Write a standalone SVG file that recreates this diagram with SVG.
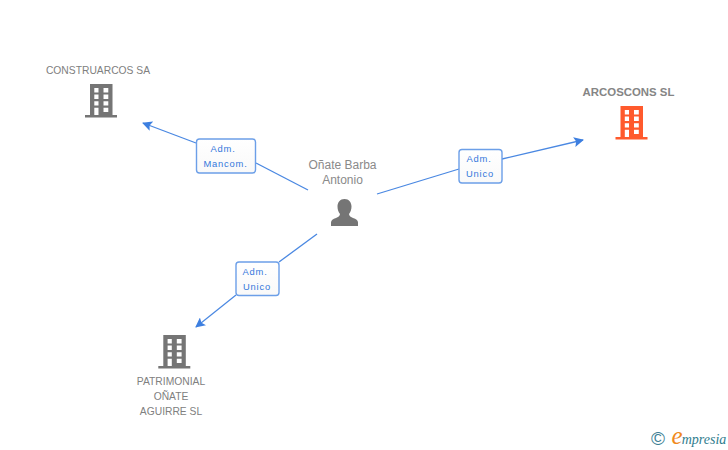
<svg xmlns="http://www.w3.org/2000/svg" width="728" height="450" viewBox="0 0 728 450">
<style>
text{font-family:"Liberation Sans",Arial,sans-serif;text-anchor:middle}
.n{font-size:10.3px;fill:#808080}
.p{font-size:12px;fill:#8a8a8a}
.b{font-size:11.4px;font-weight:bold;fill:#858585}
.l{font-size:9.4px;fill:#3478dc;letter-spacing:.8px}
.c{fill:none;stroke:#4a88e2;stroke-width:1.3}
.box{fill:url(#g);stroke:#6c9fe8;stroke-width:1.4}
</style>
<defs>
<linearGradient id="g" x1="0" y1="0" x2="0" y2="1"><stop offset="0" stop-color="#fff"/><stop offset="1" stop-color="#f9f9f9"/></linearGradient>
<marker id="a" markerWidth="11" markerHeight="10" refX="9" refY="5" orient="auto" markerUnits="userSpaceOnUse"><path d="M0 0L10 5L0 10L2 5Z" fill="#3d7fe0"/></marker>
<symbol id="bld" width="32" height="34" viewBox="0 0 32 34" overflow="visible">
<path fill-rule="evenodd" d="M5 0H27.500V31H32V33.500H0V31H5ZM9.300 4V8.500H13.500V4ZM18.500 4V8.500H23.300V4ZM9.300 10.500V15H13.500V10.500ZM18.500 10.500V15H23.300V10.500ZM9.300 17.200V21.500H13.500V17.200ZM18.500 17.200V21.500H23.300V17.200ZM9.300 23.800V31H13.500V23.800ZM18.500 23.800V28H23.300V23.800Z"/>
</symbol>
</defs>
<rect width="728" height="450" fill="#fff"/>
<g id="connectors">
<path class="c" d="M196 143L143 123" marker-end="url(#a)"/>
<path class="c" d="M256 163L308 190"/>
<path class="c" d="M377 194L459 169"/>
<path class="c" d="M502 159L583 140" marker-end="url(#a)"/>
<path class="c" d="M317 234L279 262"/>
<path class="c" d="M236 295L196 327" marker-end="url(#a)"/>
</g>
<g id="node-construarcos">
<text class="n" x="98" y="74">CONSTRUARCOS SA</text>
<use href="#bld" x="85" y="84" fill="#757575"/>
</g>
<g id="node-arcoscons">
<text class="b" x="628.500" y="95.500">ARCOSCONS SL</text>
<use href="#bld" x="615.500" y="106" fill="#ff5a2d"/>
</g>
<g id="node-patrimonial">
<use href="#bld" x="158.300" y="335" fill="#757575"/>
<text class="n" x="171" y="385">PATRIMONIAL</text>
<text class="n" x="171" y="400">OÑATE</text>
<text class="n" x="171" y="415">AGUIRRE SL</text>
</g>
<g id="node-person">
<text class="p" x="342.500" y="169">Oñate Barba</text>
<text class="p" x="342.500" y="184">Antonio</text>
<path fill="#757575" d="M344.500 199C349 199 351.500 202.500 351.500 206.500C351.500 209.500 350.500 212 349 214C349 216 351 217 353 218C356 219 358 220 358 222.500V226H331V222.500C331 220 333 219 336 218C338 217 340 216 340 214C338.500 212 337.500 209.500 337.500 206.500C337.500 202.500 340 199 344.500 199Z"/>
</g>
<g id="label-mancom">
<rect class="box" x="196.500" y="139" width="59" height="34" rx="3"/>
<text class="l" x="223" y="152">Adm.</text>
<text class="l" x="225.500" y="167">Mancom.</text>
</g>
<g id="label-unico-right">
<rect class="box" x="459" y="149.500" width="43" height="33.500" rx="3"/>
<text class="l" x="479" y="162">Adm.</text>
<text class="l" x="480" y="177">Unico</text>
</g>
<g id="label-unico-bottom">
<rect class="box" x="236" y="262" width="43" height="33.500" rx="3"/>
<text class="l" x="255" y="275">Adm.</text>
<text class="l" x="257" y="290">Unico</text>
</g>
<g id="logo">
<text x="658" y="444.500" style="font-size:19px;fill:#3d7f95">©</text>
<text x="677" y="444" style="font-family:'Liberation Serif',serif;font-size:25px;font-style:italic;fill:#f08a1d">e</text>
<text x="704" y="444" style="font-family:'Liberation Serif',serif;font-size:14px;font-style:italic;fill:#2f7d8e">mpresia</text>
</g>
</svg>
